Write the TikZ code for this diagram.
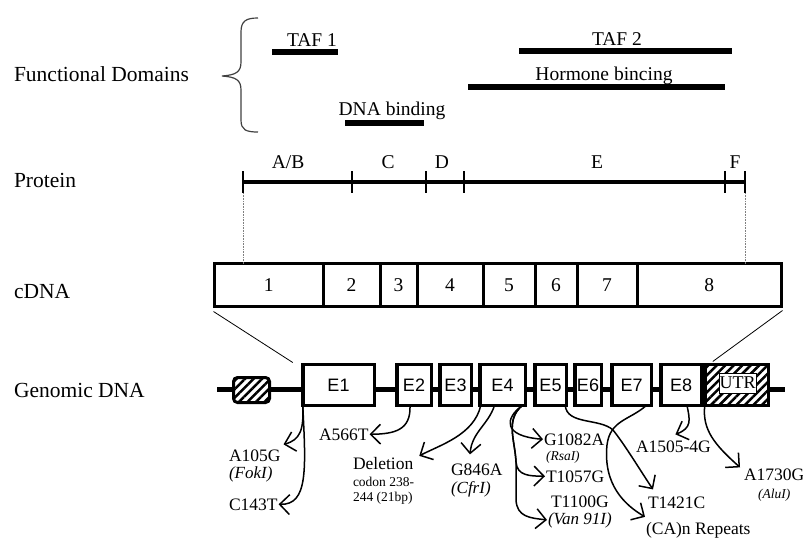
\documentclass[tikz,border=0pt]{standalone}
\usepackage{fontspec}
\setmainfont{Liberation Serif}
\newfontfamily\exonfont{Liberation Sans}
\usepackage{tikz}
\usetikzlibrary{arrows.meta,positioning,calc,patterns.meta}

\begin{document}
\begin{tikzpicture}[x=1pt, y=-1pt, every node/.style={inner sep=1pt, outer sep=0pt},
  rowlbl/.style={anchor=base west, font=\fontsize{21.5}{24}\selectfont},
  domlbl/.style={anchor=base, font=\fontsize{19.5}{22}\selectfont},
  mutlbl/.style={anchor=base west, font=\fontsize{17.5}{20}\selectfont},
  mutit/.style={mutlbl, font=\fontsize{17}{20}\selectfont\itshape},
  smlbl/.style={anchor=base west, font=\fontsize{13.5}{15}\selectfont},
  smit/.style={smlbl, font=\fontsize{13.5}{15}\selectfont\itshape},
  bar/.style={line width=6pt},
  cbox/.style={draw, line width=3pt, minimum height=43pt, font=\fontsize{19.5}{22}\selectfont},
  exon/.style={draw, line width=3.5pt, fill=white, minimum height=41pt, font=\exonfont\fontsize{18}{20}\selectfont},
  hatchbox/.style={draw, preaction={fill=white}, pattern={Lines[angle=45,distance=6pt,line width=2.5pt]}},
  mutarr/.style={line width=1.5pt, -{Straight Barb[scale=2.2]}}]
\useasboundingbox (0,0) rectangle (803,539);

\node[rowlbl] (fdlbl) at (13,81) {Functional Domains};
\node[rowlbl] (prlbl) at (13,187) {Protein};
\node[rowlbl] (cdlbl) at (13,298) {cDNA};
\node[rowlbl] (gdlbl) at (13,397) {Genomic DNA};

\draw[line width=1.2pt, black!75] (258,18) .. controls (246,18) and (241,21) .. (241,32) -- (241,62)
  .. controls (241,72) and (236,75) .. (222,76) .. controls (236,77) and (241,80) .. (241,90)
  -- (241,120) .. controls (241,130) and (246,132) .. (258,132);

\draw[bar] (272,52) -- (338,52);
\node[domlbl] (taf1) at (312,46) {TAF 1};
\draw[bar] (345,123) -- (424,123);
\node[domlbl] (dnab) at (392,115) {DNA binding};
\draw[bar] (519,51) -- (732,51);
\node[domlbl] (taf2) at (617,45) {TAF 2};
\draw[bar] (468,87) -- (725,87);
\node[domlbl] (horm) at (604,80) {Hormone bincing};

\draw[line width=4.5pt] (243,182) -- (745,182);
\foreach \t in {243,352,426,464,725,745} \draw[line width=2.5pt] (\t,171) -- (\t,193);
\node[domlbl] (pab) at (288,168) {A/B};
\node[domlbl] (pc) at (388,168) {C};
\node[domlbl] (pd) at (442,168) {D};
\node[domlbl] (pe) at (597,168) {E};
\node[domlbl] (pf) at (735,168) {F};

\node[cbox, minimum width=108.5pt] (c1) at (268.75,285) {1};
\node[cbox, minimum width=57pt, right=0pt of c1] (c2) {2};
\node[cbox, minimum width=37pt, right=0pt of c2] (c3) {3};
\node[cbox, minimum width=66pt, right=0pt of c3] (c4) {4};
\node[cbox, minimum width=52pt, right=0pt of c4] (c5) {5};
\node[cbox, minimum width=42pt, right=0pt of c5] (c6) {6};
\node[cbox, minimum width=60pt, right=0pt of c6] (c7) {7};
\node[cbox, minimum width=144.5pt, right=0pt of c7] (c8) {8};

\coordinate (pl) at (243,193);
\coordinate (pr) at (745,193);
\draw[densely dotted, line width=0.6pt, gray] (pl) -- (pl |- c1.north);
\draw[densely dotted, line width=0.6pt, gray] (pr) -- (pr |- c8.north);

\draw[line width=5.5pt] (217,389.5) -- (785,389.5);
\node[hatchbox, line width=3pt, rounded corners=4pt, minimum width=36pt, minimum height=25pt] (prom) at (251.5,390) {};
\node[exon, minimum width=71.5pt] (e1) at (338.5,385) {E1};
\node[exon, minimum width=34.5pt] (e2) at (414,385) {E2};
\node[exon, minimum width=31.5pt] (e3) at (455.5,385) {E3};
\node[exon, minimum width=45.5pt] (e4) at (502.5,385) {E4};
\node[exon, minimum width=31.5pt] (e5) at (550.5,385) {E5};
\node[exon, minimum width=26.5pt] (e6) at (588,385) {E6};
\node[exon, minimum width=39.5pt] (e7) at (631.5,385) {E7};
\node[exon, minimum width=40.5pt] (e8) at (681,385) {E8};
\node[hatchbox, line width=3.5pt, minimum width=63.5pt, minimum height=41pt] (utr) at (736.5,385) {};
\node[draw, fill=white, line width=0.8pt, inner xsep=0.5pt, minimum height=20pt, font=\fontsize{18}{20}\selectfont] (utrlbl) at (737.5,383) {UTR};

\draw[line width=0.8pt] ($(c1.south west)+(-1,5)$) -- ($(e1.north west)+(-10,-2)$);
\draw[line width=0.8pt] ($(c8.south east)+(1,4)$) -- ($(utr.north west)+(8,-3)$);

\node[mutlbl] (a105) at (228,461) {A105G};
\node[mutit] (foki) at (228,478) {(FokI)};
\node[mutlbl] (c143) at (228,510) {C143T};
\node[mutlbl] (a566) at (318,440) {A566T};
\node[mutlbl] (del) at (352,469) {Deletion};
\node[smlbl] (cod1) at (352,486) {codon 238-};
\node[smlbl] (cod2) at (352,501) {244 (21bp)};
\node[mutlbl] (g846) at (450,475) {G846A};
\node[mutit] (cfri) at (450,493) {(CfrI)};
\node[mutlbl] (g1082) at (543,445) {G1082A};
\node[smit] (rsai) at (545,460) {(RsaI)};
\node[mutlbl] (t1057) at (545,482) {T1057G};
\node[mutlbl] (t1100) at (550,507) {T1100G};
\node[mutit] (van) at (547,524) {(Van 91I)};
\node[mutlbl] (t1421) at (647,508) {T1421C};
\node[mutlbl] (carep) at (645,534) {(CA)n Repeats};
\node[mutlbl] (a1505) at (635,452) {A1505-4G};
\node[mutlbl] (a1730) at (743,480) {A1730G};
\node[smit] (alui) at (757,498) {(AluI)};

\draw[mutarr] (e1.south west) .. controls (306,470) and (308,505) .. (c143.east);
\draw[mutarr] (e1.south west) .. controls (304,430) and (300,440) .. ($(a105.north east)+(2,-4)$);
\draw[mutarr] ($(e2.south)+(-4,0)$) .. controls (411,430) and (395,434) .. (a566.east);
\draw[mutarr] ($(e4.south west)+(1,0)$) .. controls (474,435) and (440,445) .. ($(del.north east)+(5,0)$);
\draw[mutarr] ($(e4.south)+(-8,0)$) .. controls (488,425) and (472,432) .. ($(g846.north west)+(20,-8)$);
\draw[mutarr] ($(e4.south east)+(-3,0)$) .. controls (505,418) and (502,436) .. (g1082.west);
\draw[mutarr] ($(e4.south east)+(-3,0)$) .. controls (505,420) and (515,440) .. (516,462) .. controls (517,476) and (530,476) .. (t1057.west);
\draw[mutarr] ($(e4.south east)+(-3,0)$) .. controls (505,420) and (515,440) .. (516,462) -- (516,500) .. controls (517,517) and (530,518) .. (van.west);
\draw[mutarr] ($(e5.south east)+(-1,0)$) .. controls (567,425) and (600,418) .. (613,430) .. controls (625,445) and (640,470) .. ($(t1421.north west)+(6,-6)$);
\draw[mutarr] ($(e7.south east)+(-5,0)$) .. controls (630,420) and (610,420) .. (607,445) .. controls (603,485) and (625,505) .. ($(carep.north west)+(0,-4)$);
\draw[mutarr] ($(e8.south)+(6,0)$) .. controls (690,420) and (692,428) .. ($(a1505.north)+(2,-5)$);
\draw[mutarr] (utr.south west) .. controls (702,430) and (715,445) .. ($(a1730.north west)+(-3,0)$);
\end{tikzpicture}
\end{document}
